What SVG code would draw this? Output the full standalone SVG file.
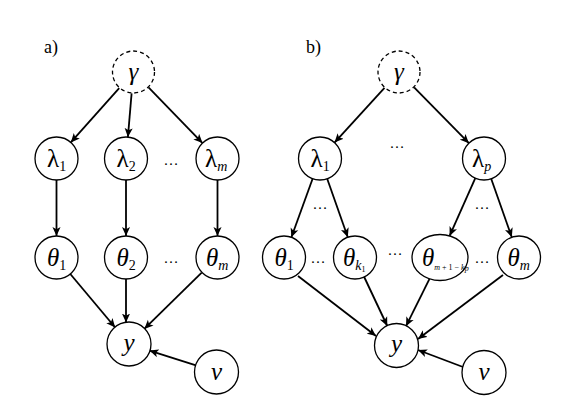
<svg xmlns="http://www.w3.org/2000/svg" width="581" height="411" viewBox="0 0 581 411">
<style>
.n{fill:#fff;stroke:#000;stroke-width:1.3}
.d{stroke-dasharray:4 3}
.e{stroke:#000;stroke-width:1.8;fill:none;marker-end:url(#ah)}
.t{font-family:"Liberation Serif","Times New Roman",serif;font-size:25px;fill:#000}
.i{font-style:italic}
.u{font-style:normal}
.s{font-size:14px}
.ss{font-size:8px}
.dots{font-family:"Liberation Serif",serif;font-size:15px;fill:#000;text-anchor:middle}
.lab{font-family:"Liberation Serif","Times New Roman",serif;font-size:18px;fill:#000}
</style>
<defs>
<marker id="ah" viewBox="0 0 10 10" refX="10" refY="5" markerWidth="9" markerHeight="9" markerUnits="userSpaceOnUse" orient="auto">
<path d="M0,0.5 L10,5 L0,9.5 L2.5,5 Z" fill="#000"/>
</marker>
</defs>
<rect width="581" height="411" fill="#fff"/>
<text class="lab" x="44" y="53">a)</text>
<text class="lab" x="306" y="53">b)</text>

<g id="connectors">
<line class="e" x1="119.2" y1="88.1" x2="70.8" y2="142.4"/>
<line class="e" x1="131.6" y1="93.4" x2="127.9" y2="137.1"/>
<line class="e" x1="148.5" y1="87.4" x2="202.5" y2="143.1"/>
<line class="e" x1="56.5" y1="180" x2="56.5" y2="236"/>
<line class="e" x1="126" y1="180" x2="126" y2="236"/>
<line class="e" x1="217.5" y1="180" x2="217.5" y2="236"/>
<line class="e" x1="70.3" y1="274" x2="115.2" y2="327.5"/>
<line class="e" x1="126" y1="279" x2="126" y2="322.5"/>
<line class="e" x1="201.7" y1="272.6" x2="144.3" y2="328.9"/>
<line class="e" x1="196" y1="365.4" x2="149.5" y2="350.6"/>

<line class="e" x1="384.5" y1="87.9" x2="334.5" y2="142.6"/>
<line class="e" x1="414.1" y1="87.3" x2="468.9" y2="143.2"/>
<line class="e" x1="312.6" y1="178.7" x2="291.4" y2="237.3"/>
<line class="e" x1="327.2" y1="178.8" x2="347.8" y2="237.2"/>
<line class="e" x1="475.3" y1="178.2" x2="449.6" y2="235.9"/>
<line class="e" x1="491.2" y1="178.8" x2="511.8" y2="237.2"/>
<line class="e" x1="298" y1="276" x2="376" y2="336"/>
<line class="e" x1="364.2" y1="277" x2="387.3" y2="326"/>
<line class="e" x1="429.5" y1="278.8" x2="406" y2="326.2"/>
<line class="e" x1="503" y1="275" x2="418" y2="339"/>
<line class="e" x1="463" y1="367" x2="418" y2="350"/>
</g>

<g id="gamma_a"><circle class="n d" cx="133.5" cy="72" r="21"/><text class="t i" x="133.5" y="80" text-anchor="middle">γ</text></g>
<g id="lambda1_a"><circle class="n" cx="56.5" cy="158.5" r="21.5"/><text class="t" x="47" y="167">λ<tspan class="s" dy="4">1</tspan></text></g>
<g id="lambda2_a"><circle class="n" cx="126" cy="158.5" r="21.5"/><text class="t" x="116.5" y="167">λ<tspan class="s" dy="4">2</tspan></text></g>
<g id="lambdam_a"><circle class="n" cx="217.5" cy="158.5" r="21.5"/><text class="t" x="205" y="167">λ<tspan class="s i" dy="4">m</tspan></text></g>
<text class="dots" x="171" y="165">…</text>
<g id="theta1_a"><circle class="n" cx="56.5" cy="257.5" r="21.5"/><text class="t i" x="47" y="266">θ<tspan class="s u" dy="4">1</tspan></text></g>
<g id="theta2_a"><circle class="n" cx="126" cy="257.5" r="21.5"/><text class="t i" x="116.5" y="266">θ<tspan class="s u" dy="4">2</tspan></text></g>
<g id="thetam_a"><circle class="n" cx="217.5" cy="257.5" r="21.5"/><text class="t i" x="206" y="266">θ<tspan class="s" dy="4">m</tspan></text></g>
<text class="dots" x="171" y="263">…</text>
<g id="y_a"><circle class="n" cx="129" cy="344" r="22"/><text class="t i" x="129" y="351" text-anchor="middle">y</text></g>
<g id="v_a"><circle class="n" cx="216.5" cy="372" r="22"/><text class="t i" x="216.5" y="380" text-anchor="middle">v</text></g>

<g id="gamma_b"><circle class="n d" cx="399" cy="72" r="21"/><text class="t i" x="399" y="80" text-anchor="middle">γ</text></g>
<text class="dots" x="397" y="148">…</text>
<g id="lambda1_b"><circle class="n" cx="320" cy="158.5" r="21.5"/><text class="t" x="310.5" y="167">λ<tspan class="s" dy="4">1</tspan></text></g>
<g id="lambdap_b"><circle class="n" cx="484" cy="158.5" r="21.5"/><text class="t" x="472" y="167">λ<tspan class="s i" dy="4">p</tspan></text></g>
<text class="dots" x="320" y="209">…</text>
<text class="dots" x="482" y="209">…</text>
<g id="theta1_b"><circle class="n" cx="284" cy="257.5" r="21.5"/><text class="t i" x="274.5" y="266">θ<tspan class="s u" dy="4">1</tspan></text></g>
<text class="dots" x="318" y="263">…</text>
<g id="thetak1_b"><circle class="n" cx="355" cy="257.5" r="21.5"/><text class="t i" x="343" y="266">θ<tspan class="s" dy="4">k</tspan><tspan class="ss u" dy="2">1</tspan></text></g>
<text class="dots" x="395" y="255">…</text>
<g id="thetamk_b"><ellipse class="n" cx="440" cy="257.5" rx="28" ry="23"/><text class="t i" x="422" y="266">θ<tspan class="ss" dy="4">m</tspan><tspan class="ss u"> + 1 − </tspan><tspan class="ss">k</tspan><tspan class="ss" font-size="6" dy="1">p</tspan></text></g>
<text class="dots" x="482" y="263">…</text>
<g id="thetam_b"><circle class="n" cx="519" cy="257.5" r="21.5"/><text class="t i" x="507.5" y="266">θ<tspan class="s" dy="4">m</tspan></text></g>
<g id="y_b"><circle class="n" cx="396.5" cy="345.5" r="22"/><text class="t i" x="396.5" y="352" text-anchor="middle">y</text></g>
<g id="v_b"><circle class="n" cx="484" cy="372.5" r="22"/><text class="t i" x="484" y="380" text-anchor="middle">v</text></g>
</svg>
